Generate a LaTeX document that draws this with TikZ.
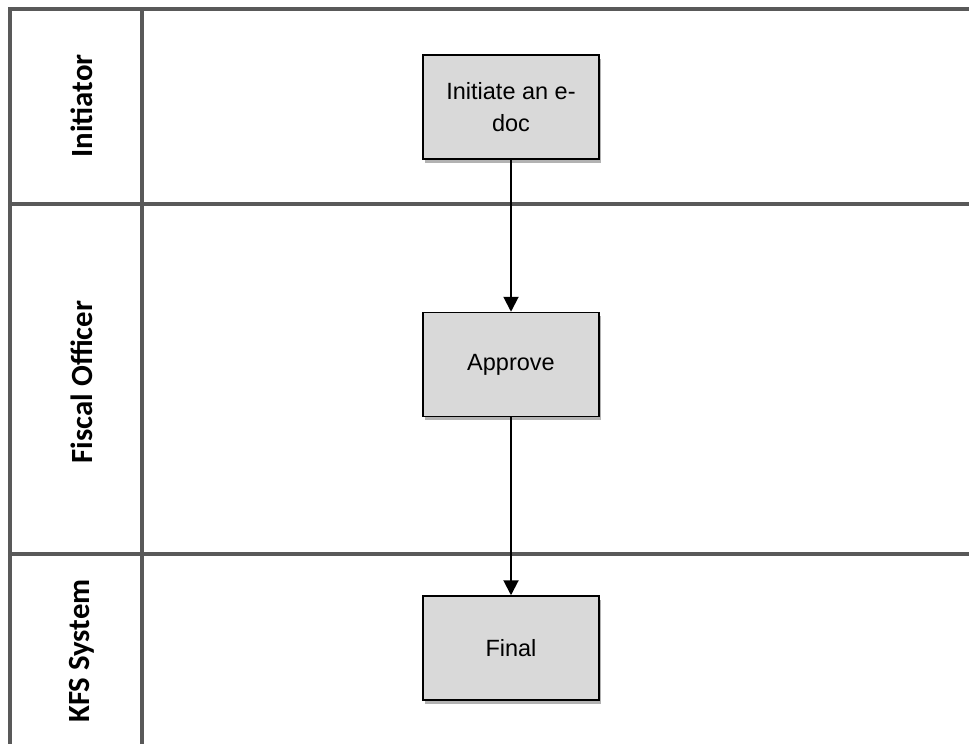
\documentclass[tikz,border=0pt]{standalone}
\usepackage{fontspec}
\setmainfont{Liberation Sans}
\newfontfamily\headfont{Carlito}
\usetikzlibrary{arrows.meta,shadows}
\definecolor{lanegray}{HTML}{595959}
\definecolor{boxgray}{HTML}{D9D9D9}
\begin{document}
\begin{tikzpicture}[x=1pt,y=-1pt,
  laneline/.style={draw=lanegray,line width=4pt},
  stepbox/.style={draw=black,line width=1.5pt,fill=boxgray,minimum width=176pt,minimum height=104pt,
    inner sep=0pt,align=center,font=\fontsize{23.5}{32}\selectfont,
    drop shadow={shadow xshift=1.5pt,shadow yshift=-3.5pt,opacity=0.3,fill=black}},
  lanelabel/.style={rotate=90,font=\headfont\bfseries\fontsize{30.8}{34}\selectfont,inner sep=0pt},
  flow/.style={line width=2pt,-{Triangle[length=15pt,width=15pt]}}]
\useasboundingbox (0,0) rectangle (969,744);
% lanes
\draw[laneline] (10,744) -- (10,9) -- (969,9);
\draw[laneline] (142,9) -- (142,744);
\draw[laneline] (8,204) -- (969,204);
\draw[laneline] (8,554) -- (969,554);
% labels
\node[lanelabel] (l1) at (82,106) {Initiator};
\node[lanelabel] (l2) at (82,382) {Fiscal Officer};
\node[lanelabel] (l3) at (82,651) {KFS System};
% steps
\node[stepbox] (s1) at (511,107) {Initiate an e-\\doc};
\node[stepbox] (s2) at (511,364.5) {Approve};
\node[stepbox] (s3) at (511,648) {Final};
\draw[flow] (s1) -- (s2);
\draw[flow] (s2) -- (s3);
\end{tikzpicture}
\end{document}
